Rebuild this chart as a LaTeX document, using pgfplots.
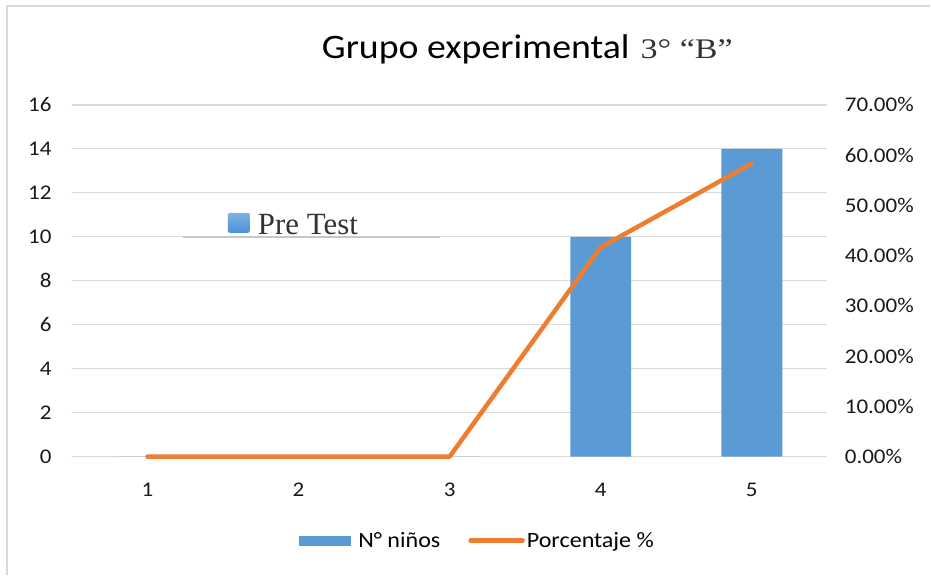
\documentclass[border=0pt]{standalone}
\usepackage{fontspec}
\setmainfont{Carlito}[FakeStretch=1.1]
\newfontfamily\timesf{Liberation Serif}
\newfontfamily\timesw{Liberation Serif}[FakeStretch=1.2]
\usepackage{pgfplots}
\pgfplotsset{compat=1.18}
\definecolor{barblue}{HTML}{5B9BD5}
\definecolor{lineorange}{HTML}{ED7D31}
\definecolor{gridgray}{HTML}{D9D9D9}
\definecolor{sqblue}{HTML}{4A90D9}
\begin{document}
\begin{tikzpicture}[x=1bp,y=1bp]
\path (0,0) rectangle (931,575);
\draw[gridgray, line width=1.5bp] (7,0) -- (7,569) -- (931,569);
\begin{axis}[at={(72bp,118bp)}, anchor=south west, scale only axis,
  width=756bp, height=352bp,
  xmin=0.5, xmax=5.5, ymin=0, ymax=16,
  xtick={1,2,3,4,5}, ytick={0,2,...,16},
  axis line style={draw=none}, major tick length=0pt,
  ymajorgrids, grid style={gridgray, line width=1.2bp},
  tick label style={font=\fontsize{21}{24}\selectfont, text=black!90},
  /pgf/number format/assume math mode=true,
  xticklabel style={anchor=center, yshift=-33bp},
  yticklabel style={anchor=east, xshift=-17bp},
  clip=false]
\addplot[ybar, bar width=61bp, bar shift=0pt, fill=barblue, draw=none]
  coordinates {(1,0) (2,0) (3,0) (4,10) (5,14)};
\end{axis}
\begin{axis}[at={(72bp,118bp)}, anchor=south west, scale only axis,
  width=756bp, height=352bp,
  xmin=0.5, xmax=5.5, ymin=0, ymax=70,
  hide x axis, axis y line*=right,
  ytick={0,10,...,70},
  yticklabels={0.00\%,10.00\%,20.00\%,30.00\%,40.00\%,50.00\%,60.00\%,70.00\%},
  axis line style={draw=none}, major tick length=0pt,
  tick label style={font=\fontsize{21}{24}\selectfont, text=black!90},
  yticklabel style={anchor=west, xshift=14bp},
  clip=false,
  legend columns=2, legend cell align=left,
  legend style={at={(0.537,-0.239)}, anchor=center, draw=none, fill=none,
    font=\fontsize{22}{24}\selectfont,
    /tikz/every even column/.append style={column sep=26bp}}]
\addlegendimage{legend image code/.code={\fill[barblue, draw=none] (0bp,-5bp) rectangle (52bp,5bp); \path[draw=none, fill=none] (0bp,0bp) -- (57bp,0bp);}}
\addlegendentry{N° niños}
\addplot[draw=lineorange, line width=4.5bp, line cap=round, line join=round, mark=none,
  legend image code/.code={\draw[lineorange, line width=4.5bp, line cap=round] (0bp,0bp) -- (52bp,0bp);}]
  coordinates {(1,0) (2,0) (3,0) (4,41.67) (5,58.33)};
\addlegendentry{Porcentaje \%}
\end{axis}
% overlay "Pre Test" label
\draw[gridgray!80!gray, line width=2bp] (183,338) -- (440,338);
\shade[rounded corners=2bp, top color=sqblue!70, bottom color=sqblue] (228,342) rectangle (250,362);
\node[anchor=base west, inner sep=0pt, text=black!80] at (258,340) {\fontsize{31}{34}\timesf Pre Test};
% title
\node[anchor=base west, inner sep=0pt] at (322,516) {\fontsize{34.5}{38}\selectfont Grupo experimental};
\node[anchor=base west, inner sep=0pt, text=black!80] at (641,516) {\fontsize{28.5}{32}\timesw 3° “B”};
\end{tikzpicture}
\end{document}
